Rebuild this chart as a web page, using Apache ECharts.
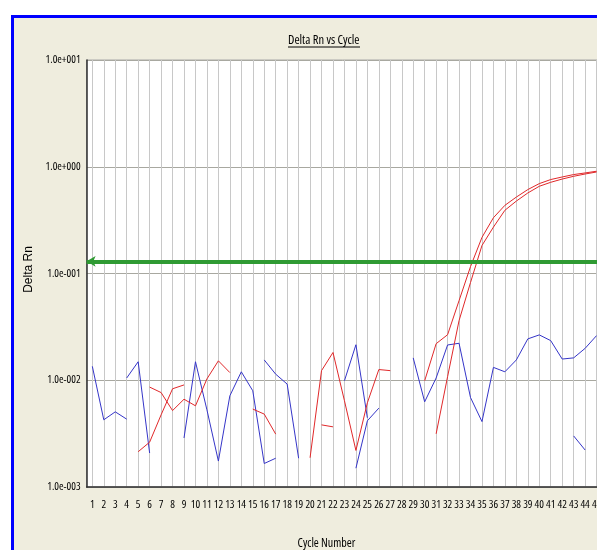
<!DOCTYPE html>
<html>
<head>
<meta charset="utf-8">
<script src="https://cdn.jsdelivr.net/npm/echarts@6/dist/echarts.min.js"></script>
<style>
  html, body { margin: 0; padding: 0; background: #ffffff; width: 597px; height: 550px; overflow: hidden; }
  #frame { position: absolute; left: 11px; top: 15px; width: 800px; height: 800px;
           border: 3px solid #0000ff; background: #efedde; }
  #chart { position: absolute; left: 0; top: 0; width: 597px; height: 550px; }
</style>
</head>
<body>
<div id="frame"></div>
<div id="chart"></div>
<script>
// ---- data ----
const cycles = Array.from({length: 45}, (_, i) => i + 1);
const threshold = 0.134;
const yTicks = [0.001, 0.01, 0.1, 1, 10];

const red1 = [null, null, null, null, 0.00214, 0.00263, 0.00474, 0.00832, 0.00904, null,
  null, null, null, null, 0.00537, 0.00482, 0.00313, null, null, 0.00188,
  0.0123, 0.0182, 0.00643, 0.00220, 0.00615, 0.0126, 0.0123, null, null, 0.00989,
  0.0220, 0.0267, 0.0557, 0.116, 0.218, 0.333, 0.435, 0.520, 0.611, 0.695,
  0.759, 0.802, 0.845, 0.875, 0.908];

const red2 = [null, null, null, null, null, 0.00863, 0.00767, 0.00520, 0.00664, 0.00576,
  0.0103, 0.0152, 0.0118, null, null, null, null, null, null, null,
  0.00382, 0.00366, null, null, null, null, null, null, null, null,
  0.00315, 0.0108, 0.0362, 0.0823, 0.183, 0.272, 0.391, 0.477, 0.568, 0.656,
  0.715, 0.767, 0.814, 0.855, 0.893];

const blue1 = [0.0135, 0.00426, 0.00506, 0.00432, null, null, null, null, 0.00288, 0.0149,
  0.00528, 0.00175, 0.00715, 0.0120, 0.00797, 0.00166, 0.00186, null, null, null,
  null, null, 0.00989, 0.0215, 0.00445, null, null, null, 0.0162, 0.00628,
  0.0105, 0.0214, 0.0222, 0.00689, 0.00410, 0.0132, 0.0120, 0.0155, 0.0244, 0.0266,
  0.0235, 0.0158, 0.0162, 0.0199, 0.0262];

const blue2 = [null, null, null, 0.0105, 0.0149, 0.00208, null, null, null, null,
  null, null, null, null, null, 0.0155, 0.0114, 0.00921, 0.00186, null,
  null, null, null, 0.00150, 0.00417, 0.00548, null, null, null, null,
  null, null, null, null, null, null, null, null, null, null,
  null, null, 0.00301, 0.00222, null];

// ---- pick an installed condensed face resembling the reference's narrow font ----
const cvs = document.createElement('canvas').getContext('2d');
function w(font, s) { cvs.font = font; return cvs.measureText(s).width; }
const sample = '1.0e+001';
const candidates = [
  { st: '', fam: "'Liberation Sans Narrow'" },
  { st: '', fam: "'Arial Narrow'" },
  { st: 'condensed', fam: "'Open Sans'" },
  { st: 'condensed', fam: "'Roboto'" },
  { st: '', fam: "'DejaVu Sans Condensed'" },
  { st: '', fam: "'Liberation Sans'" }
];
let best = { st: '', fam: "'Liberation Sans'" }, bestErr = 1e9;
candidates.forEach(c => {
  const a = w(`${c.st} 11px ${c.fam}, monospace`.trim(), sample);
  const b = w(`${c.st} 11px ${c.fam}, serif`.trim(), sample);
  const m = w('11px monospace', sample), s = w('11px serif', sample);
  const installed = !(Math.abs(a - m) < 0.01 && Math.abs(b - s) < 0.01);
  if (installed) {
    const err = Math.abs(a - 36.5);
    if (err < bestErr) { bestErr = err; best = c; }
  }
});
const NSTYLE = best.st || 'normal';
const NFAM = best.fam + ', sans-serif';

// ---- chart ----
const RED = '#e0282a', BLUE = '#3535c8';

function pairs(arr) { return cycles.map((c, i) => [c, arr[i]]); }
function expFmt(v) {
  const e = Math.round(Math.log10(v));
  return '1.0e' + (e < 0 ? '-' : '+') + String(Math.abs(e)).padStart(3, '0');
}

const GL = 86.6, GT = 60, GW = 515.7, GH = 427;
const unit = GW / 45;

const chart = echarts.init(document.getElementById('chart'), null, {renderer: 'canvas'});

function lineSeries(name, arr, color) {
  return {
    name, type: 'line', xAxisIndex: 1, yAxisIndex: 1,
    data: pairs(arr), showSymbol: false, connectNulls: false,
    lineStyle: {color, width: 1}, itemStyle: {color}, silent: true, z: 3
  };
}
const narrowText = { color: '#000', fontSize: 11, fontFamily: NFAM, fontStyle: NSTYLE };

chart.setOption({
  animation: false,
  backgroundColor: 'transparent',
  graphic: [
    { type: 'text', left: 288, top: 34, z: 10,
      style: { text: 'Delta Rn vs Cycle', font: `${NSTYLE} 12.5px ${NFAM}`, fill: '#000' } },
    { type: 'line', z: 10, shape: { x1: 288, y1: 47, x2: 360, y2: 47 },
      style: { stroke: '#000', lineWidth: 1 } }
  ],
  grid: [
    { left: GL, top: GT, width: GW, height: GH, show: true, backgroundColor: '#ffffff',
      borderColor: '#a8a8a8', borderWidth: 1, containLabel: false, outerBoundsMode: 'none' },
    { left: GL + unit / 2, top: GT, width: GW - unit, height: GH, show: false,
      containLabel: false, outerBoundsMode: 'none' }
  ],
  xAxis: [
    { type: 'value', gridIndex: 0, min: 0, max: 1,
      axisLine: { show: true, onZero: false, lineStyle: { color: '#303030', width: 1.5 } },
      axisTick: { show: false }, axisLabel: { show: false }, splitLine: { show: false } },
    { type: 'value', gridIndex: 1, min: 1, max: 45, interval: 1,
      axisLine: { show: false }, axisTick: { show: false },
      axisLabel: Object.assign({ show: true, margin: 12, showMinLabel: true, showMaxLabel: true,
                   formatter: v => String(v) }, narrowText),
      splitLine: { show: true, lineStyle: { color: '#c8c8c8', width: 1 } },
      name: 'Cycle Number', nameLocation: 'middle', nameGap: 51,
      nameTextStyle: Object.assign({}, narrowText, { fontSize: 12, padding: [0, 36, 0, 0] }) }
  ],
  yAxis: [
    { type: 'log', gridIndex: 0, logBase: 10, min: yTicks[0], max: yTicks[yTicks.length - 1],
      axisLine: { show: true, lineStyle: { color: '#303030', width: 1.5 } },
      axisTick: { show: false },
      axisLabel: Object.assign({ show: true, margin: 6, showMinLabel: true, showMaxLabel: true,
                   formatter: expFmt }, narrowText),
      splitLine: { show: true, lineStyle: { color: '#a8a8a0', width: 1 } },
      name: 'Delta Rn', nameLocation: 'middle', nameGap: 40,
      nameTextStyle: { color: '#000', fontSize: 12, fontFamily: "'Liberation Sans', Arial, sans-serif",
                       padding: [0, 0, 0, 8] } },
    { type: 'log', gridIndex: 1, logBase: 10, min: yTicks[0], max: yTicks[yTicks.length - 1],
      show: false, splitLine: { show: false } }
  ],
  series: [
    lineSeries('blue1', blue1, BLUE),
    lineSeries('blue2', blue2, BLUE),
    lineSeries('red1', red1, RED),
    lineSeries('red2', red2, RED),
    { name: 'threshold', type: 'line', xAxisIndex: 0, yAxisIndex: 0, data: [], silent: true,
      markLine: { silent: true, symbol: ['arrow', 'none'], symbolSize: [8, 9], animation: false,
        label: { show: false },
        lineStyle: { color: '#2f9a33', width: 4, type: 'solid' },
        data: [{ yAxis: threshold }] }, z: 4 }
  ]
});
</script>
</body>
</html>
